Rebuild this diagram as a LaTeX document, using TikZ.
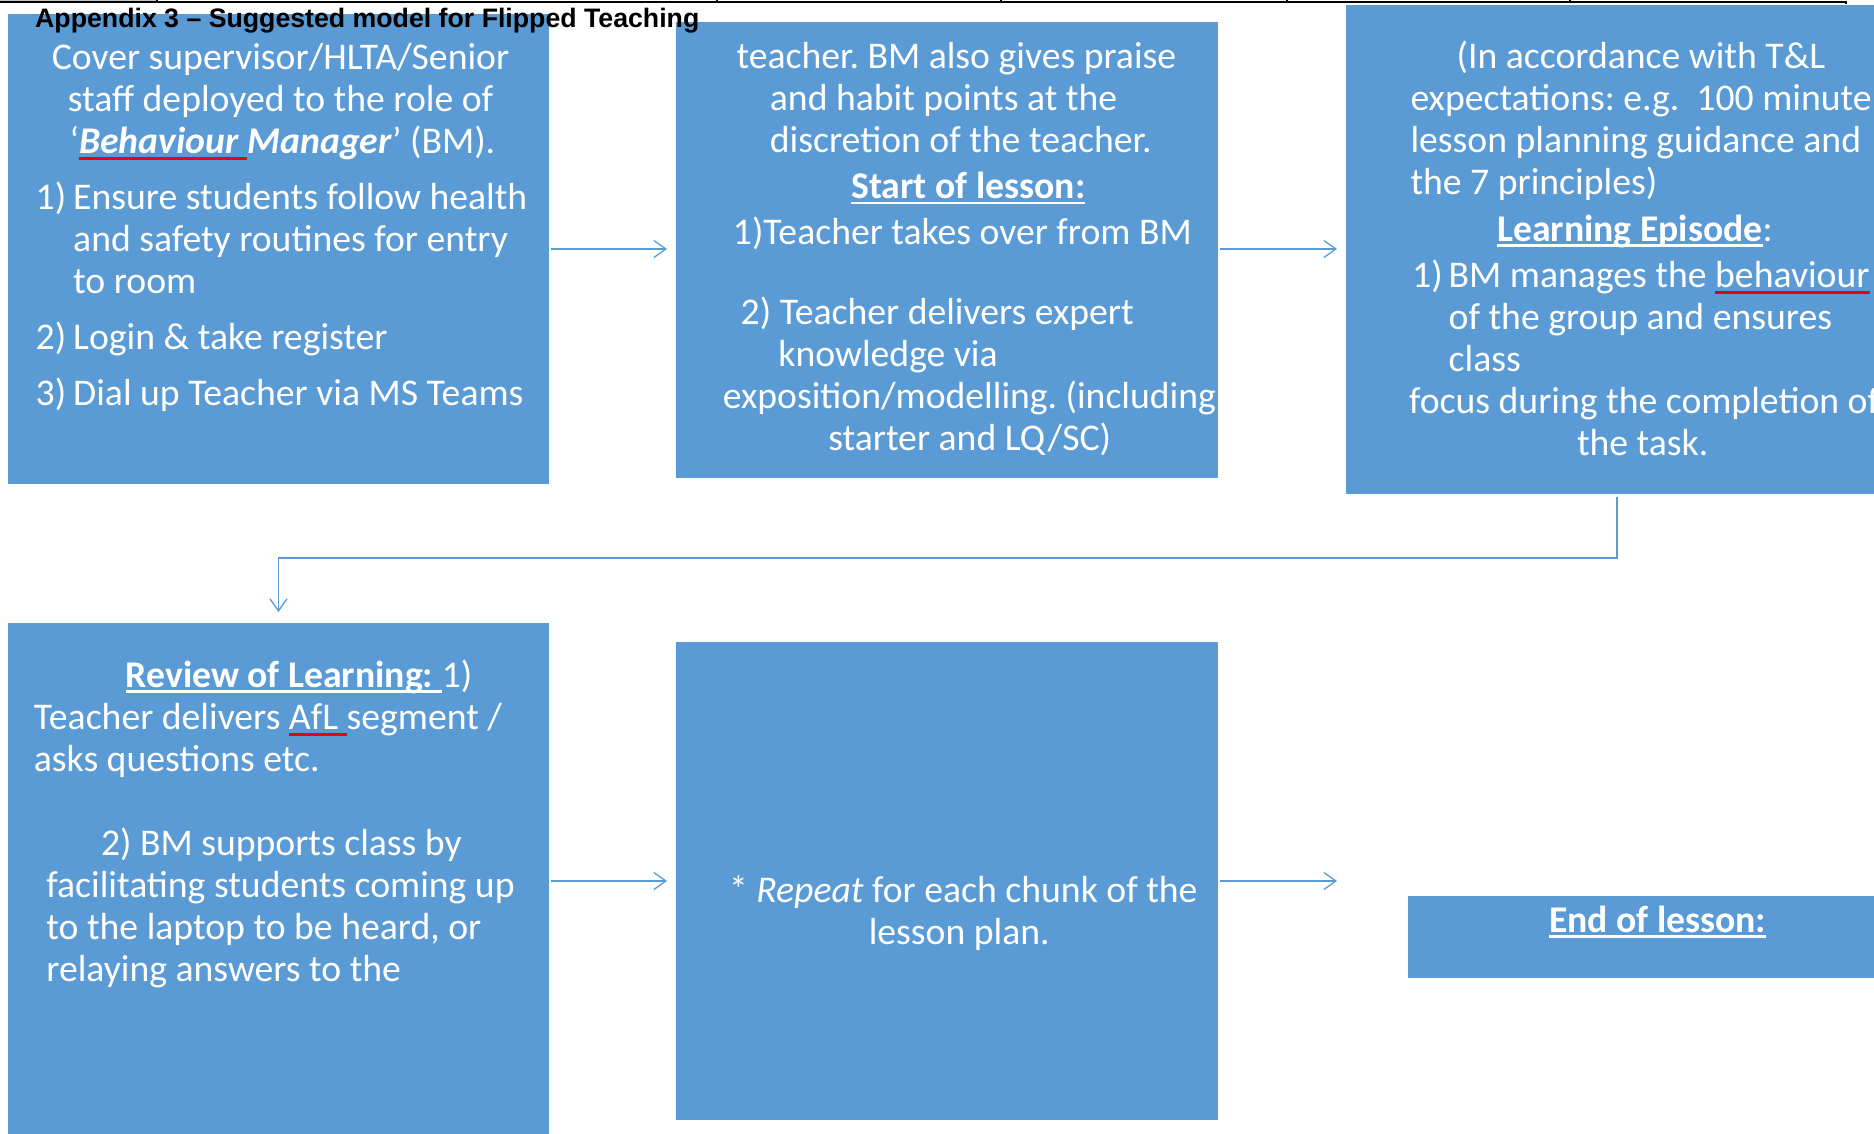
\documentclass[tikz,border=0pt]{standalone}
\usepackage{fontspec}
\setmainfont{Carlito}
\newfontfamily\titlefont{Liberation Sans}
\usetikzlibrary{arrows.meta}

\definecolor{boxblue}{HTML}{5B9BD5}
\definecolor{spellred}{HTML}{E8000B}

% white underline for the headings
\newcommand\whiteul[1]{\setbox0\hbox{#1}\rlap{\color{white}\rule[-5.5pt]{\wd0}{2.6pt}}\box0\relax}
% red underline under flagged words
\newcommand\spellul[1]{\setbox0\hbox{#1}\rlap{\color{spellred}\rule[-6.5pt]{\wd0}{2.8pt}}\box0\relax}
\newcommand\boxfont{\fontsize{37.7}{42}\selectfont\frenchspacing}

\tikzset{
  box/.style={rectangle, fill=boxblue, draw=none, inner sep=0pt, outer sep=0pt},
  txt/.style={anchor=base west, inner sep=0pt, outer sep=0pt, text=white, font=\boxfont},
  flow/.style={draw=boxblue, line width=1.3pt,
    -{Straight Barb[length=12pt,width=17pt,line width=1.3pt]}},
}

\begin{document}
\begin{tikzpicture}[x=1pt, y=-1pt]
\useasboundingbox (0,0) rectangle (1874,1134);
\clip (0,0) rectangle (1874,1134);

% table rule along the top edge
\fill[gray!45] (0,0) rectangle (157,1.5);
\draw[line width=2pt] (0,2.5) -- (1846,2.5) -- (1846,4.5);
\foreach \tx in {157,717,1001,1287,1570}
  \draw[line width=1.5pt] (\tx,0) -- (\tx,3);

% process boxes
\node[box, minimum width=541pt, minimum height=470pt] (b1) at (278.5,249) {};
\node[box, minimum width=542pt, minimum height=456pt] (b2) at (947,250) {};
\node[box, minimum width=542pt, minimum height=489pt] (b3) at (1617,249.5) {};
\node[box, minimum width=541pt, minimum height=517pt] (b4) at (278.5,881.5) {};
\node[box, minimum width=542pt, minimum height=478pt] (b5) at (947,881) {};
\node[box, minimum width=494pt, minimum height=82pt] (b6) at (1655,937) {};

% title
\node[anchor=base west, inner sep=0pt] (title) at (35,27.5)
  {\titlefont\bfseries\fontsize{26.7}{30}\selectfont Appendix 3 – Suggested model for Flipped Teaching};

% box texts
\node[txt] (t1) at (35.7,69.4) {\parbox[t]{700pt}{\raggedright
\hspace*{16.1pt}Cover supervisor/HLTA/Senior\\
\hspace*{32.2pt}staff deployed to the role of\\
\hspace*{33.9pt}‘\spellul{\textbf{\textit{Behaviour }}}\textbf{\textit{Manager}}’ (BM).\\[14pt]
\makebox[37.5pt][l]{1)}Ensure students follow health\\
\hspace*{37.5pt}and safety routines for entry\\
\hspace*{37.5pt}to room\\[14pt]
\makebox[37.5pt][l]{2)}Login \& take register\\[14pt]
\makebox[37.5pt][l]{3)}Dial up Teacher via MS Teams}};

\node[txt] (t2) at (722.9,69) {\parbox[t]{700pt}{\raggedright
\hspace*{13.7pt}teacher. BM also gives praise\\
\hspace*{47pt}and habit points at the\\
\hspace*{47pt}discretion of the teacher.\\[4pt]
\hspace*{128.4pt}\whiteul{\textbf{Start of lesson:}}\\[3.5pt]
\hspace*{10pt}1)Teacher takes over from BM\\[38.5pt]
\hspace*{17.8pt}2) Teacher delivers expert\\
\hspace*{55.5pt}knowledge via\\
exposition/modelling. (including\\
\hspace*{105.4pt}starter and LQ/SC)}};

\node[txt] (t3) at (1409.1,69) {\parbox[t]{700pt}{\raggedright
\hspace*{47.5pt}(In accordance with T\&L\\
\hspace*{1.4pt}expectations: e.g.\ \ 100 minute\\
\hspace*{1.4pt}lesson planning guidance and\\
\hspace*{1.4pt}the 7 principles)\\[4.4pt]
\hspace*{88.1pt}\whiteul{\textbf{Learning Episode}}:\\[4pt]
\hspace*{3.1pt}\makebox[36.5pt][l]{1)}BM manages the \spellul{behaviour}\\
\hspace*{39.6pt}of the group and ensures\\
\hspace*{39.6pt}class\\
focus during the completion of\\
\hspace*{167.9pt}the task.}};

\node[txt] (t4) at (33.9,687) {\parbox[t]{700pt}{\raggedright
\hspace*{91.8pt}\whiteul{\textbf{Review of Learning: }}1)\\
Teacher delivers \spellul{AfL }segment /\\
asks questions etc.\\[42pt]
\hspace*{67.1pt}2) BM supports class by\\
\hspace*{12.5pt}facilitating students coming up\\
\hspace*{12.5pt}to the laptop to be heard, or\\
\hspace*{12.5pt}relaying answers to the}};

\node[txt] (t5) at (729,902.3) {\parbox[t]{700pt}{\raggedright
* \textit{Repeat} for each chunk of the\\
\hspace*{139.8pt}lesson plan.}};

\node[txt] (t6) at (1549,932.2) {\whiteul{\textbf{End of lesson:}}};

% connectors
\coordinate (turn) at (0,558);
\coordinate (endtip) at (1337,881);
\draw[flow] ([xshift=2pt]b1.east) -- ([xshift=-9pt]b2.west |- b1.east);
\draw[flow] ([xshift=2pt]b2.east |- b1.east) -- ([xshift=-9pt]b3.west |- b1.east);
\draw[flow] ([xshift=2pt]b4.east |- b5.west) -- ([xshift=-9pt]b5.west);
\draw[flow] ([xshift=2pt]b5.east) -- (endtip);
\draw[flow] ([yshift=-3pt]b3.south) -- (b3.south |- turn) -- (b4.north |- turn) -- ([yshift=11pt]b4.north);
\end{tikzpicture}
\end{document}
